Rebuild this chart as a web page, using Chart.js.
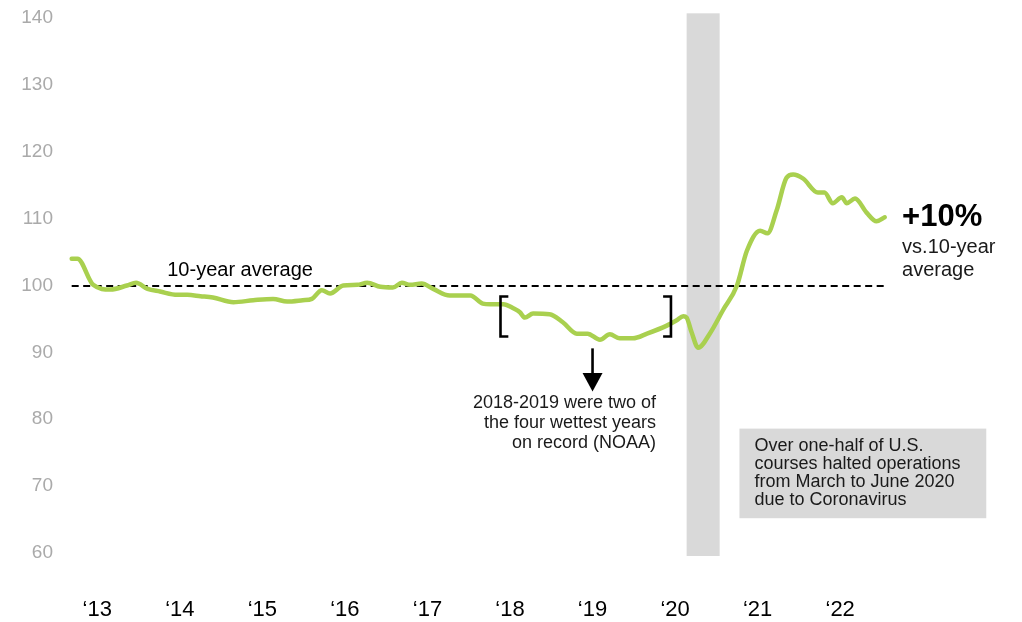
<!DOCTYPE html>
<html>
<head>
<meta charset="utf-8">
<script src="https://cdn.jsdelivr.net/npm/chart.js@4/dist/chart.umd.min.js"></script>
<style>
  html, body { margin: 0; padding: 0; background: #ffffff; }
  #wrap { width: 1022px; height: 622px; position: relative; }
</style>
</head>
<body>
<div id="wrap"><canvas id="c" width="1022" height="622"></canvas></div>
<script>
// ---- data (decimal year, index value) ----
const dates = [
  2012.69, 2012.76, 2012.95, 2013.16, 2013.36, 2013.47, 2013.61, 2013.76, 2013.97,
  2014.09, 2014.25, 2014.40, 2014.65, 2014.89, 2015.13, 2015.30, 2015.49, 2015.60,
  2015.72, 2015.82, 2015.98, 2016.15, 2016.27, 2016.43, 2016.58, 2016.69, 2016.79,
  2016.93, 2017.07, 2017.27, 2017.52, 2017.67, 2017.76, 2017.92, 2018.04, 2018.12,
  2018.18, 2018.28, 2018.48, 2018.64, 2018.81, 2018.94, 2019.09, 2019.21, 2019.33,
  2019.49, 2019.66, 2019.90, 2020.02, 2020.10, 2020.14, 2020.20, 2020.28, 2020.42,
  2020.58, 2020.75, 2020.87, 2021.03, 2021.12, 2021.23, 2021.35, 2021.43, 2021.55,
  2021.73, 2021.81, 2021.91, 2022.02, 2022.08, 2022.18, 2022.32, 2022.44, 2022.54
];
const values = [
  104.0, 104.0, 100.1, 99.4, 100.0, 100.4, 99.5, 99.1, 98.6,
  98.6, 98.4, 98.2, 97.5, 97.8, 98.0, 97.6, 97.8, 98.0,
  99.3, 98.8, 100.0, 100.1, 100.4, 99.8, 99.7, 100.4, 100.1,
  100.3, 99.5, 98.5, 98.5, 97.3, 97.2, 97.2, 96.6, 96.0,
  95.2, 95.8, 95.7, 94.5, 92.8, 92.8, 91.9, 92.7, 92.1,
  92.1, 92.8, 94.0, 94.8, 95.4, 95.2, 93.0, 90.7, 92.8,
  96.3, 100.0, 105.2, 108.2, 107.8, 111.2, 116.1, 116.6, 116.0,
  113.9, 113.9, 112.3, 113.2, 112.3, 113.0, 110.9, 109.6, 110.2
];
const tickYears = [2013, 2014, 2015, 2016, 2017, 2018, 2019, 2020, 2021, 2022];
const tickLabels = ['\u201813', '\u201814', '\u201815', '\u201816', '\u201817', '\u201818', '\u201819', '\u201820', '\u201821', '\u201822'];
const yTicks = [60, 70, 80, 90, 100, 110, 120, 130, 140];
const average = 100;
const covidStart = 2020.14, covidEnd = 2020.54;

const FONT = '"Liberation Sans", Arial, Helvetica, sans-serif';

const annotations = {
  id: 'annotations',
  beforeDatasetsDraw(chart) {
    const { ctx, scales: { x, y } } = chart;
    ctx.save();
    // covid band
    ctx.fillStyle = '#d9d9d9';
    const bx0 = x.getPixelForValue(covidStart), bx1 = x.getPixelForValue(covidEnd);
    const by0 = y.getPixelForValue(140.7), by1 = y.getPixelForValue(59.55);
    ctx.fillRect(bx0, by0, bx1 - bx0, by1 - by0);
    // dashed average line
    ctx.strokeStyle = '#000';
    ctx.lineWidth = 2;
    ctx.setLineDash([7, 4.5]);
    ctx.beginPath();
    const ay = Math.round(y.getPixelForValue(average));
    ctx.moveTo(x.getPixelForValue(dates[0]), ay);
    ctx.lineTo(x.getPixelForValue(dates[dates.length - 1]), ay);
    ctx.stroke();
    ctx.setLineDash([]);
    ctx.restore();
  },
  afterDatasetsDraw(chart) {
    const { ctx, scales: { x, y } } = chart;
    const X = v => x.getPixelForValue(v), Y = v => y.getPixelForValue(v);
    ctx.save();
    ctx.fillStyle = '#000';
    ctx.textBaseline = 'middle';
    // 10-year average label
    ctx.font = '20px ' + FONT;
    ctx.textAlign = 'center';
    ctx.fillText('10-year average', X(2014.73), Y(102.2));

    // brackets
    ctx.strokeStyle = '#000';
    ctx.lineWidth = 2.6;
    ctx.lineJoin = 'miter';
    const bt = Y(98.36), bb = Y(92.37);
    ctx.beginPath();
    ctx.moveTo(X(2017.98), bt); ctx.lineTo(X(2017.885), bt); ctx.lineTo(X(2017.885), bb); ctx.lineTo(X(2017.98), bb);
    ctx.stroke();
    ctx.beginPath();
    ctx.moveTo(X(2019.855), bt); ctx.lineTo(X(2019.95), bt); ctx.lineTo(X(2019.95), bb); ctx.lineTo(X(2019.855), bb);
    ctx.stroke();

    // arrow
    const axp = X(2019.0);
    ctx.lineWidth = 2.6;
    ctx.beginPath();
    ctx.moveTo(axp, Y(90.6)); ctx.lineTo(axp, Y(86.8));
    ctx.stroke();
    ctx.beginPath();
    ctx.moveTo(axp - 10, Y(86.9)); ctx.lineTo(axp + 10, Y(86.9)); ctx.lineTo(axp, Y(84.15));
    ctx.closePath();
    ctx.fill();

    // wettest years text
    ctx.font = '18px ' + FONT;
    ctx.fillStyle = '#1a1a1a';
    ctx.textAlign = 'right';
    const wx = X(2019.77);
    ctx.fillText('2018-2019 were two of', wx, Y(82.36));
    ctx.fillText('the four wettest years', wx, Y(79.4));
    ctx.fillText('on record (NOAA)', wx, Y(76.5));

    // covid box
    ctx.fillStyle = '#d9d9d9';
    const gx0 = X(2020.78), gx1 = X(2023.77), gy0 = Y(78.6), gy1 = Y(65.2);
    ctx.fillRect(gx0, gy0, gx1 - gx0, gy1 - gy0);
    ctx.fillStyle = '#1a1a1a';
    ctx.textAlign = 'left';
    ctx.font = '18px ' + FONT;
    const tx = gx0 + 15;
    const lines = ['Over one-half of U.S.', 'courses halted operations', 'from March to June 2020', 'due to Coronavirus'];
    const top = Y(78.6) + 17;
    lines.forEach((l, i) => ctx.fillText(l, tx, top + i * 18));

    // +10% label
    const lx = X(2022.75);
    ctx.fillStyle = '#000';
    ctx.font = 'bold 31px ' + FONT;
    ctx.fillText('+10%', lx, Y(110.2));
    ctx.font = '20px ' + FONT;
    ctx.fillStyle = '#1a1a1a';
    ctx.fillText('vs.10-year', lx, Y(110.2) + 30);
    ctx.fillText('average', lx, Y(110.2) + 53);
    ctx.restore();
  }
};

const points = dates.map((d, i) => ({ x: d, y: values[i] }));

new Chart(document.getElementById('c'), {
  type: 'line',
  data: {
    datasets: [{
      data: points,
      borderColor: '#a9d04f',
      borderWidth: 4.5,
      pointRadius: 0,
      tension: 0.4,
      cubicInterpolationMode: 'monotone',
      fill: false,
      borderCapStyle: 'round',
      borderJoinStyle: 'round'
    }]
  },
  options: {
    responsive: false,
    animation: false,
    events: [],
    layout: { padding: { top: 18, right: 25, left: 0, bottom: 0 } },
    plugins: { legend: { display: false }, tooltip: { enabled: false } },
    scales: {
      x: {
        type: 'linear',
        min: 2012.5,
        max: 2023.9,
        border: { display: false },
        grid: { display: false, drawTicks: false },
        afterBuildTicks: s => { s.ticks = tickYears.map(v => ({ value: v })); },
        afterFit: s => { s.height = 69; },
        ticks: {
          padding: 44,
          autoSkip: false,
          maxRotation: 0,
          color: '#000',
          font: { family: FONT, size: 22 },
          callback: v => tickLabels[tickYears.indexOf(v)]
        }
      },
      y: {
        min: 60,
        max: 140,
        border: { display: false },
        grid: { display: false, drawTicks: false },
        afterBuildTicks: s => { s.ticks = yTicks.map(v => ({ value: v })); },
        afterFit: s => { s.width = 56; },
        ticks: {
          padding: 3,
          color: '#aaaaaa',
          font: { family: FONT, size: 19 }
        }
      }
    }
  },
  plugins: [annotations]
});
</script>
</body>
</html>
